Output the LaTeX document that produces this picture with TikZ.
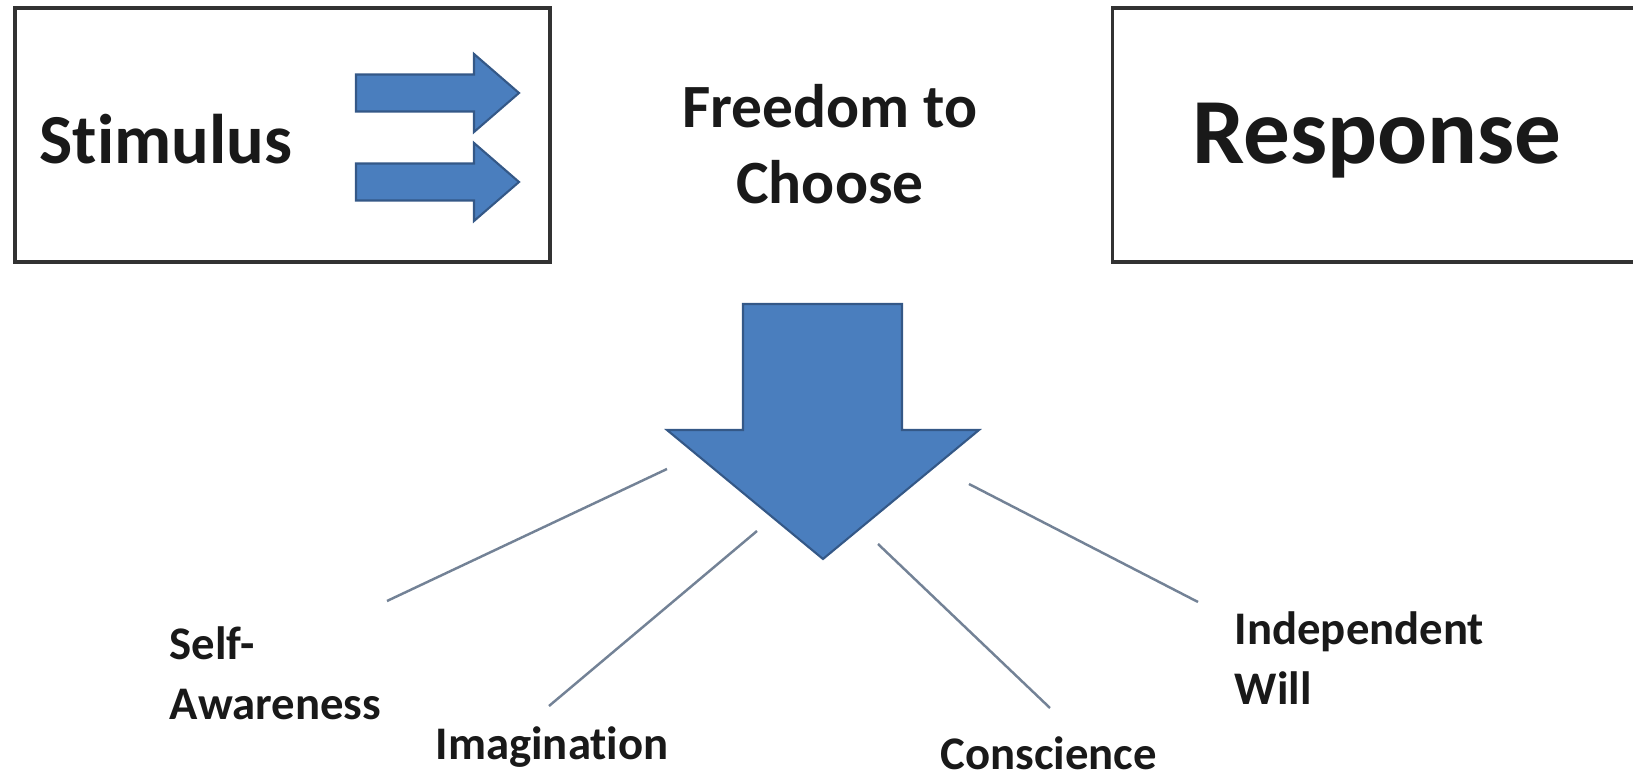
\documentclass[tikz,border=0pt]{standalone}
\usepackage{fontspec}
\setmainfont{Carlito}[Ligatures=NoCommon]
\usepackage{tikz}
\usetikzlibrary{positioning}
\usepackage{xcolor}
\definecolor{textdark}{RGB}{25, 25, 25}
\definecolor{boxgray}{RGB}{50, 50, 50}
\definecolor{arrowblue}{RGB}{74, 126, 190}
\definecolor{arrowedge}{RGB}{52, 88, 135}
\definecolor{linkgray}{RGB}{115, 130, 150}

\begin{document}
\begin{tikzpicture}[
    frame/.style={rectangle, draw=boxgray, line width=1.1pt, minimum width=5.35cm, minimum height=2.54cm},
    bigword/.style={font=\fontsize{20}{24}\selectfont\bfseries, color=textdark},
    hugeword/.style={font=\fontsize{26.5}{30}\selectfont\bfseries, color=textdark},
    midword/.style={font=\fontsize{17.5}{21.6}\selectfont\bfseries, color=textdark, align=center},
    smallword/.style={font=\fontsize{13.3}{17}\selectfont\bfseries, color=textdark, align=left, anchor=west, inner sep=0pt},
    blockarrow/.style={fill=arrowblue, draw=arrowedge, line width=0.6pt, line join=miter},
    link/.style={draw=linkgray, line width=0.7pt},
]
\useasboundingbox (0,0) rectangle (16.33,7.82);

% Boxes
\node[frame] (stimbox) at (2.825, 6.47) {};
\node[frame] (respbox) at (13.80, 6.47) {};
\node[bigword] (stim) at (1.66, 6.43) {Stimulus};
\node[hugeword] (resp) at (13.77, 6.41) {Response};
\node[midword] (free) at (8.30, 6.38) {Freedom to\\Choose};

% Small arrows
\foreach \y in {6.89, 6.00} {
  \filldraw[blockarrow] (3.56,\y+0.185) -- (4.74,\y+0.185) -- (4.74,\y+0.39) -- (5.19,\y)
    -- (4.74,\y-0.39) -- (4.74,\y-0.185) -- (3.56,\y-0.185) -- cycle;
}

% Big down arrow
\filldraw[blockarrow] (7.43,4.78) -- (9.02,4.78) -- (9.02,3.52) -- (9.79,3.52)
  -- (8.23,2.23) -- (6.67,3.52) -- (7.43,3.52) -- cycle;

% Qualities
\node[smallword] (aware) at (1.69, 1.09) {Self-\\Awareness};
\node[smallword] (imag) at (4.35, 0.35) {Imagination};
\node[smallword] (consc) at (9.40, 0.29) {Conscience};
\node[smallword] (will) at (12.34, 1.24) {Independent\\Will};

% Line ends
\coordinate (awareA) at (6.67, 3.13);
\coordinate (awareB) at (3.87, 1.81);
\coordinate (imagA) at (7.57, 2.51);
\coordinate (imagB) at (5.49, 0.76);
\coordinate (conscA) at (8.78, 2.38);
\coordinate (conscB) at (10.50, 0.74);
\coordinate (willA) at (9.69, 2.98);
\coordinate (willB) at (11.98, 1.80);

% Lines
\draw[link] (awareA) -- (awareB);
\draw[link] (imagA) -- (imagB);
\draw[link] (conscA) -- (conscB);
\draw[link] (willA) -- (willB);

\end{tikzpicture}
\end{document}
